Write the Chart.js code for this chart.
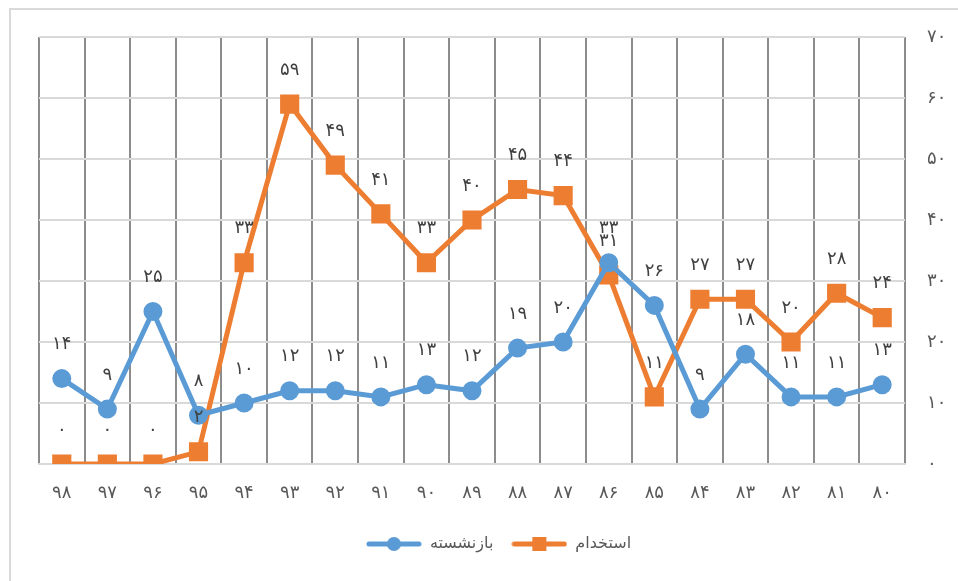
<!DOCTYPE html>
<html><head><meta charset="utf-8">
<script src="https://cdn.jsdelivr.net/npm/chart.js@4/dist/chart.umd.min.js"></script>
<style>html,body{margin:0;padding:0;background:#fff}#wrap{width:958px;height:581px;position:relative}</style>
</head><body><div id="wrap"><canvas id="c" width="958" height="581"></canvas></div>
<script>
const years = [98,97,96,95,94,93,92,91,90,89,88,87,86,85,84,83,82,81,80];
const retired = [14,9,25,8,10,12,12,11,13,12,19,20,33,26,9,18,11,11,13];
const hired = [0,0,0,2,33,59,49,41,33,40,45,44,31,11,27,27,20,28,24];
const seriesNames = ['بازنشسته','استخدام'];
const yTicks = [0,10,20,30,40,50,60,70];

const FA = '۰۱۲۳۴۵۶۷۸۹';
const toFa = n => String(n).replace(/\d/g, d => FA[d]);
const BLUE = '#5B9BD5', ORANGE = '#ED7D31';
const FONT = "'DejaVu Sans', sans-serif";

function legendIcon(color, shape){
  const c = document.createElement('canvas'); c.width = 56; c.height = 16;
  const x = c.getContext('2d');
  x.strokeStyle = color; x.lineWidth = 5; x.lineCap = 'round';
  x.beginPath(); x.moveTo(3,8); x.lineTo(53,8); x.stroke();
  x.fillStyle = color;
  if (shape === 'circle'){ x.beginPath(); x.arc(28,8,7,0,Math.PI*2); x.fill(); }
  else { x.fillRect(21,1,14,14); }
  return c;
}
const icons = [legendIcon(BLUE,'circle'), legendIcon(ORANGE,'rect')];

const frame = {
  id:'frame',
  beforeDraw(chart){
    const ctx = chart.ctx; ctx.save();
    ctx.fillStyle = '#fff'; ctx.fillRect(0,0,chart.width,chart.height);
    ctx.strokeStyle = '#d9d9d9'; ctx.lineWidth = 2;
    ctx.beginPath(); ctx.moveTo(10,chart.height); ctx.lineTo(10,9); ctx.lineTo(chart.width,9); ctx.stroke();
    ctx.restore();
  }
};
const valueLabels = {
  id:'valueLabels',
  afterDatasetsDraw(chart){
    const ctx = chart.ctx; ctx.save();
    ctx.font = '18px ' + FONT; ctx.fillStyle = '#404040';
    ctx.textAlign = 'center'; ctx.textBaseline = 'middle';
    chart.data.datasets.forEach((ds,i)=>{
      chart.getDatasetMeta(i).data.forEach((pt,j)=>{
        ctx.fillText(toFa(ds.data[j]), pt.x, pt.y - 34);
      });
    });
    ctx.restore();
  }
};

new Chart(document.getElementById('c'), {
  type:'line',
  data:{
    labels: years.map(toFa),
    datasets:[
      {label:seriesNames[0], data:retired, borderColor:BLUE, backgroundColor:BLUE, borderWidth:5,
       pointStyle:'circle', pointRadius:7, pointHoverRadius:7, tension:0},
      {label:seriesNames[1], data:hired, borderColor:ORANGE, backgroundColor:ORANGE, borderWidth:5,
       pointStyle:'rect', pointRadius:10, pointHoverRadius:10, tension:0}
    ]
  },
  options:{
    responsive:false, animation:false,
    layout:{padding:{left:39, top:37, right:0, bottom:19}},
    plugins:{
      tooltip:{enabled:false},
      legend:{
        position:'bottom',
        labels:{
          usePointStyle:true, pointStyleWidth:56, padding:18,
          color:'#595959', font:{family:FONT, size:16},
          generateLabels(chart){
            const items = Chart.defaults.plugins.legend.labels.generateLabels(chart);
            items.forEach((it,i)=>{ it.pointStyle = icons[i]; });
            return items;
          }
        }
      }
    },
    scales:{
      x:{
        offset:true,
        grid:{offset:true, color:'#8c8c8c', lineWidth:2, drawTicks:false},
        border:{color:'#d9d9d9', width:2},
        ticks:{color:'#595959', font:{family:FONT, size:18}, padding:19, maxRotation:0},
        afterFit(s){ s.height = 54; }
      },
      y:{
        position:'right', min:0, max:70,
        afterBuildTicks(s){ s.ticks = yTicks.map(v=>({value:v})); },
        grid:{color:'#d9d9d9', lineWidth:2, drawTicks:false},
        border:{display:false},
        ticks:{color:'#595959', font:{family:FONT, size:18}, padding:22, callback:v=>toFa(v)},
        afterFit(s){ s.width = 53; }
      }
    }
  },
  plugins:[frame, valueLabels]
});
</script></body></html>
